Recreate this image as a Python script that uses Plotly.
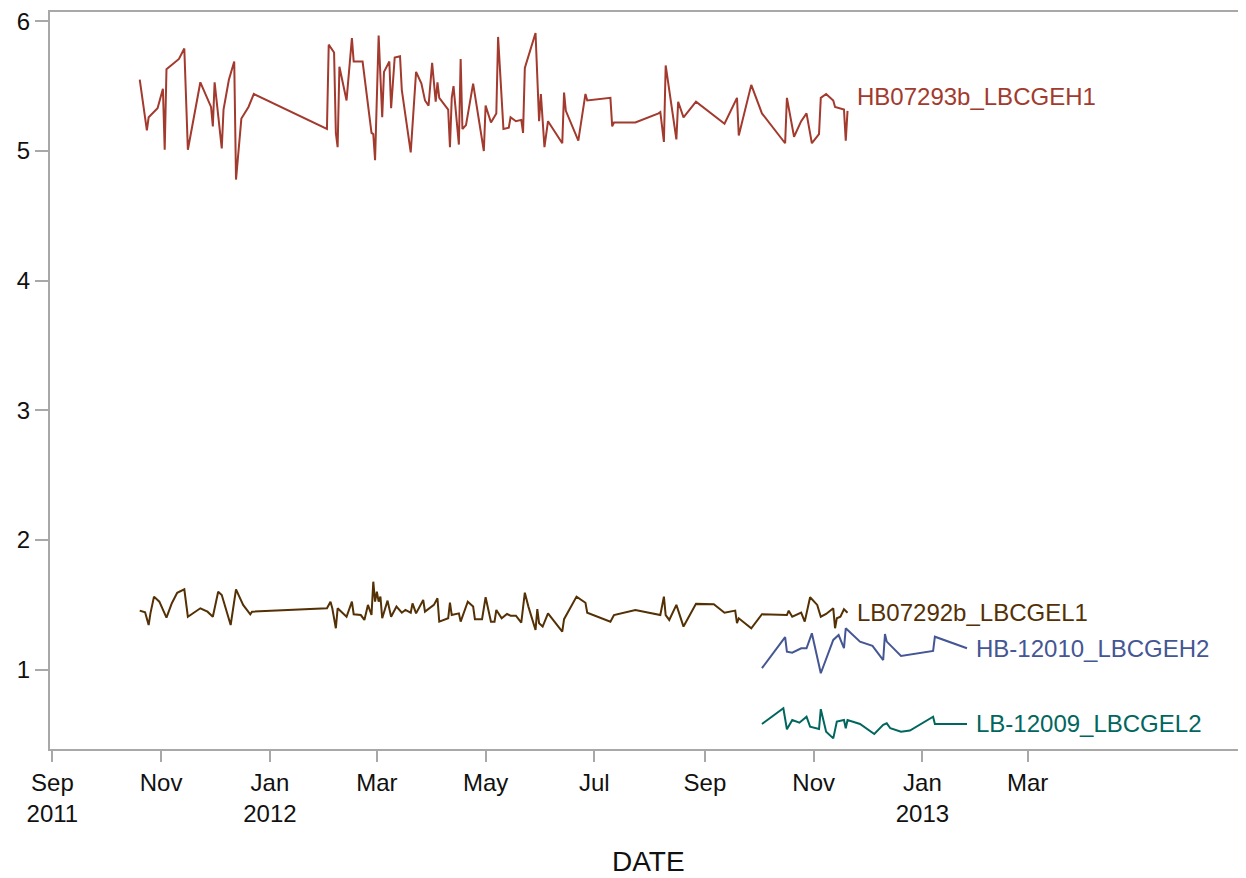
import plotly.graph_objects as go

# ---------------- data ----------------
hb1_dates = ["2011-10-20","2011-10-24","2011-10-25","2011-10-30","2011-11-02","2011-11-03","2011-11-04",
    "2011-11-11","2011-11-14","2011-11-16","2011-11-23","2011-11-29","2011-11-30","2011-12-01","2011-12-05",
    "2011-12-06","2011-12-09","2011-12-12","2011-12-13","2011-12-16","2011-12-20","2011-12-23","2012-02-02",
    "2012-02-03","2012-02-06","2012-02-07","2012-02-08","2012-02-09","2012-02-13","2012-02-16","2012-02-17",
    "2012-02-22","2012-02-27","2012-02-28","2012-02-29","2012-03-02","2012-03-04","2012-03-05","2012-03-08",
    "2012-03-09","2012-03-11","2012-03-14","2012-03-15","2012-03-20","2012-03-23","2012-03-26","2012-03-28",
    "2012-03-30","2012-04-01","2012-04-03","2012-04-04","2012-04-05","2012-04-10","2012-04-11","2012-04-12",
    "2012-04-13","2012-04-16","2012-04-17","2012-04-18","2012-04-20","2012-04-24","2012-04-30","2012-05-01",
    "2012-05-04","2012-05-07","2012-05-08","2012-05-11","2012-05-14","2012-05-15","2012-05-18","2012-05-21",
    "2012-05-22","2012-05-23","2012-05-29","2012-05-31","2012-06-01","2012-06-03","2012-06-05","2012-06-13",
    "2012-06-14","2012-06-15","2012-06-22","2012-06-26","2012-06-27","2012-07-10","2012-07-11","2012-07-12",
    "2012-07-24","2012-08-06","2012-08-07","2012-08-09","2012-08-10","2012-08-16","2012-08-17","2012-08-20",
    "2012-08-27","2012-09-12","2012-09-19","2012-09-20","2012-09-27","2012-10-03","2012-10-16","2012-10-17",
    "2012-10-21","2012-10-25","2012-10-28","2012-10-31","2012-11-04","2012-11-05","2012-11-08","2012-11-12",
    "2012-11-13","2012-11-18","2012-11-19","2012-11-20"]
hb1_values = [5.55,5.16,5.26,5.33,5.48,5.01,5.63,
    5.71,5.79,5.01,5.53,5.34,5.19,5.53,5.02,
    5.32,5.55,5.69,4.78,5.25,5.34,5.44,5.17,
    5.82,5.76,5.14,5.03,5.65,5.39,5.87,5.69,
    5.69,5.14,5.13,4.93,5.89,5.26,5.61,5.69,
    5.33,5.72,5.73,5.47,4.99,5.61,5.52,5.39,
    5.35,5.68,5.38,5.53,5.41,5.32,5.03,5.41,
    5.50,5.05,5.71,5.17,5.20,5.52,5.00,5.35,
    5.22,5.29,5.88,5.17,5.18,5.26,5.23,5.24,
    5.14,5.64,5.91,5.23,5.44,5.03,5.23,5.06,
    5.45,5.31,5.08,5.44,5.39,5.41,5.19,5.22,
    5.22,5.29,5.30,5.07,5.66,5.09,5.38,5.26,
    5.38,5.21,5.41,5.12,5.51,5.29,5.06,5.41,
    5.11,5.23,5.29,5.06,5.13,5.41,5.44,5.39,
    5.34,5.32,5.08,5.31]

lb1_dates = ["2011-10-20","2011-10-23","2011-10-25","2011-10-26","2011-10-28","2011-10-31","2011-11-04",
    "2011-11-07","2011-11-10","2011-11-14","2011-11-16","2011-11-23","2011-11-27","2011-11-30","2011-12-03",
    "2011-12-05","2011-12-10","2011-12-13","2011-12-17","2011-12-21","2011-12-22","2012-02-02","2012-02-04",
    "2012-02-05","2012-02-07","2012-02-08","2012-02-13","2012-02-16","2012-02-17","2012-02-21","2012-02-23",
    "2012-02-25","2012-02-27","2012-02-28","2012-02-29","2012-03-01","2012-03-02","2012-03-03","2012-03-04",
    "2012-03-07","2012-03-09","2012-03-12","2012-03-15","2012-03-17","2012-03-20","2012-03-21","2012-03-23",
    "2012-03-27","2012-03-28","2012-04-02","2012-04-04","2012-04-05","2012-04-10","2012-04-11","2012-04-12",
    "2012-04-16","2012-04-17","2012-04-21","2012-04-24","2012-04-25","2012-04-29","2012-05-01","2012-05-04",
    "2012-05-06","2012-05-07","2012-05-10","2012-05-13","2012-05-15","2012-05-18","2012-05-21","2012-05-23",
    "2012-05-25","2012-05-29","2012-05-30","2012-05-31","2012-06-02","2012-06-05","2012-06-13","2012-06-14",
    "2012-06-21","2012-06-26","2012-06-27","2012-07-10","2012-07-12","2012-07-24","2012-08-07","2012-08-09",
    "2012-08-10","2012-08-12","2012-08-16","2012-08-20","2012-08-27","2012-09-06","2012-09-12","2012-09-18",
    "2012-09-19","2012-09-20","2012-09-27","2012-10-03","2012-10-17","2012-10-18","2012-10-20","2012-10-25",
    "2012-10-27","2012-10-30","2012-11-03","2012-11-05","2012-11-08","2012-11-12","2012-11-13","2012-11-14",
    "2012-11-16","2012-11-18","2012-11-20"]
lb1_values = [1.456,1.443,1.345,1.435,1.564,1.525,1.402,
    1.513,1.594,1.620,1.409,1.474,1.448,1.409,1.602,
    1.577,1.345,1.620,1.500,1.428,1.448,1.474,1.525,
    1.474,1.320,1.474,1.409,1.525,1.428,1.422,1.384,
    1.500,1.422,1.679,1.525,1.602,1.525,1.564,1.397,
    1.533,1.409,1.487,1.440,1.461,1.440,1.512,1.435,
    1.538,1.448,1.500,1.551,1.371,1.397,1.517,1.422,
    1.435,1.371,1.525,1.487,1.390,1.390,1.559,1.371,
    1.371,1.461,1.397,1.430,1.417,1.417,1.363,1.594,
    1.487,1.307,1.467,1.359,1.333,1.435,1.294,1.390,
    1.564,1.517,1.440,1.371,1.422,1.461,1.422,1.564,
    1.422,1.384,1.500,1.333,1.508,1.505,1.440,1.456,
    1.359,1.397,1.320,1.428,1.422,1.456,1.409,1.440,
    1.371,1.559,1.500,1.409,1.430,1.474,1.320,1.397,
    1.409,1.467,1.440]

hb2_dates = ["2012-10-03","2012-10-16","2012-10-17","2012-10-20","2012-10-25","2012-10-28","2012-10-31",
    "2012-11-05","2012-11-12","2012-11-15","2012-11-18","2012-11-19","2012-11-27","2012-11-30","2012-12-04",
    "2012-12-10","2012-12-11","2012-12-12","2012-12-20","2013-01-07","2013-01-08","2013-01-26"]
hb2_values = [1.012,1.251,1.140,1.132,1.166,1.166,1.281,
    0.973,1.230,1.268,1.166,1.320,1.217,1.204,1.184,
    1.075,1.276,1.217,1.106,1.145,1.255,1.166]

lb2_dates = ["2012-10-03","2012-10-15","2012-10-17","2012-10-20","2012-10-24","2012-10-28","2012-10-30",
    "2012-11-04","2012-11-05","2012-11-07","2012-11-08","2012-11-12","2012-11-14","2012-11-18","2012-11-19",
    "2012-11-20","2012-11-27","2012-12-05","2012-12-10","2012-12-12","2012-12-14","2012-12-20","2012-12-25",
    "2013-01-07","2013-01-08","2013-01-26"]
lb2_values = [0.582,0.703,0.541,0.613,0.592,0.638,0.561,
    0.543,0.696,0.582,0.523,0.471,0.600,0.613,0.549,
    0.613,0.582,0.505,0.575,0.587,0.549,0.523,0.531,
    0.638,0.582,0.582]

series = [
    ("HB07293b_LBCGEH1", hb1_dates, hb1_values, "#A23A2E", 14),
    ("LB07292b_LBCGEL1", lb1_dates, lb1_values, "#543005", 0),
    ("HB-12010_LBCGEH2", hb2_dates, hb2_values, "#445694", 0),
    ("LB-12009_LBCGEL2", lb2_dates, lb2_values, "#01665E", 0),
]

tick_vals = ["2011-09-01","2011-11-01","2012-01-01","2012-03-01","2012-05-01","2012-07-01",
             "2012-09-01","2012-11-01","2013-01-01","2013-03-01"]
tick_text = ["Sep<br>2011","Nov","Jan<br>2012","Mar","May","Jul","Sep","Nov","Jan<br>2013","Mar"]
x_title = "DATE"

FONT = "Liberation Sans, Arial, sans-serif"

fig = go.Figure()
annotations = []
for name, xs, ys, color, yshift in series:
    fig.add_trace(go.Scatter(x=xs, y=ys, mode="lines", name=name,
                             line=dict(color=color, width=2), showlegend=False))
    annotations.append(dict(x=xs[-1], y=ys[-1], xref="x", yref="y", text=name,
                            showarrow=False, xanchor="left", yanchor="middle",
                            xshift=7, yshift=yshift,
                            font=dict(family=FONT, size=24, color=color)))

# axis title placed as an annotation below the tick labels
annotations.append(dict(x=0.5, y=0, xref="paper", yref="paper", text=x_title,
                        showarrow=False, xanchor="center", yanchor="middle", yshift=-112,
                        font=dict(family=FONT, size=28, color="#111111")))

fig.update_layout(
    width=1238, height=870,
    margin=dict(l=42, r=0, t=4, b=129),
    paper_bgcolor="white", plot_bgcolor="white",
    font=dict(family=FONT, size=24, color="#111111"),
    annotations=annotations,
    xaxis=dict(
        type="date", automargin=False,
        range=["2011-08-30 16:00", "2013-07-01 12:00"],
        tickvals=tick_vals, ticktext=tick_text,
        showgrid=False, zeroline=False,
        showline=True, linecolor="#A8A8A8", linewidth=2, mirror=True,
        ticks="outside", ticklen=11, tickwidth=1.5, tickcolor="#A8A8A8",
        ticklabeloverflow="allow",
        tickfont=dict(family=FONT, size=24, color="#111111"),
    ),
    yaxis=dict(
        automargin=False,
        range=[0.389, 6.072],
        tickvals=[1, 2, 3, 4, 5, 6],
        showgrid=False, zeroline=False,
        showline=True, linecolor="#A8A8A8", linewidth=2, mirror=False,
        ticks="outside", ticklen=13, tickwidth=1.5, tickcolor="#A8A8A8",
        ticklabeloverflow="allow",
        tickfont=dict(family=FONT, size=24, color="#111111"),
    ),
)

fig.write_html("out.html")
